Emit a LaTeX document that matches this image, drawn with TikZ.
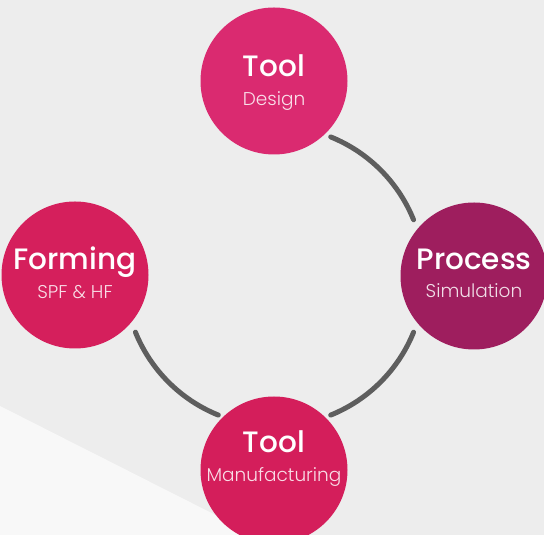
\documentclass[tikz,border=0pt]{standalone}
\usepackage{fontspec}
\setmainfont{Poppins}
\newfontfamily\titlefont{Poppins Medium}
\newfontfamily\subfont{Poppins Light}
\definecolor{bgmain}{HTML}{EDEDED}
\definecolor{bglight}{HTML}{F8F8F8}
\definecolor{cDesign}{HTML}{DA2A70}
\definecolor{cProcess}{HTML}{9E1E5E}
\definecolor{cForming}{HTML}{D51F5C}
\definecolor{cManuf}{HTML}{D41E5B}
\definecolor{arcgray}{HTML}{5E5E5E}
\tikzset{
  disc/.style={circle, minimum size=147pt, inner sep=0pt, draw=none},
  ttl/.style={anchor=base, text=white, font=\titlefont\fontsize{29.5}{29.5}\selectfont, inner sep=0pt},
  sub/.style={anchor=base, text=white, text opacity=0.85, font=\subfont\fontsize{18.5}{18.5}\selectfont, inner sep=0pt},
  ring/.style={draw=arcgray, line width=5pt, line cap=round}
}
\begin{document}
\begin{tikzpicture}[x=1pt,y=1pt]
\fill[bgmain] (0,0) rectangle (544,535);
\fill[bglight] (0,129) -- (255,0) -- (0,0) -- cycle;
\useasboundingbox (0,0) rectangle (544,535);
\coordinate (C) at (274.5,259);
% connecting arcs
\draw[ring] ([shift={(22:150)}]C) arc[start angle=22, end angle=68, radius=150];
\draw[ring] ([shift={(-68:150)}]C) arc[start angle=-68, end angle=-22, radius=150];
\draw[ring] ([shift={(202:150)}]C) arc[start angle=202, end angle=248, radius=150];
% discs
\node[disc, fill=cDesign] (design) at (274,454) {};
\node[disc, fill=cProcess] (process) at (474,259) {};
\node[disc, fill=cForming] (forming) at (75,260) {};
\node[disc, fill=cManuf] (manuf) at (274,65) {};
% labels
\node[ttl] (designT) at ([yshift=4pt]design.center) {Tool};
\node[sub] (designS) at ([yshift=-25pt]design.center) {Design};
\node[ttl] (processT) at ([yshift=6pt]process.center) {Process};
\node[sub] (processS) at ([yshift=-22pt]process.center) {Simulation};
\node[ttl] (formingT) at ([yshift=5pt]forming.center) {Forming};
\node[sub] (formingS) at ([yshift=-24pt]forming.center) {SPF \& HF};
\node[ttl] (manufT) at ([yshift=17pt]manuf.center) {Tool};
\node[sub] (manufS) at ([yshift=-12pt]manuf.center) {Manufacturing};
\end{tikzpicture}
\end{document}
